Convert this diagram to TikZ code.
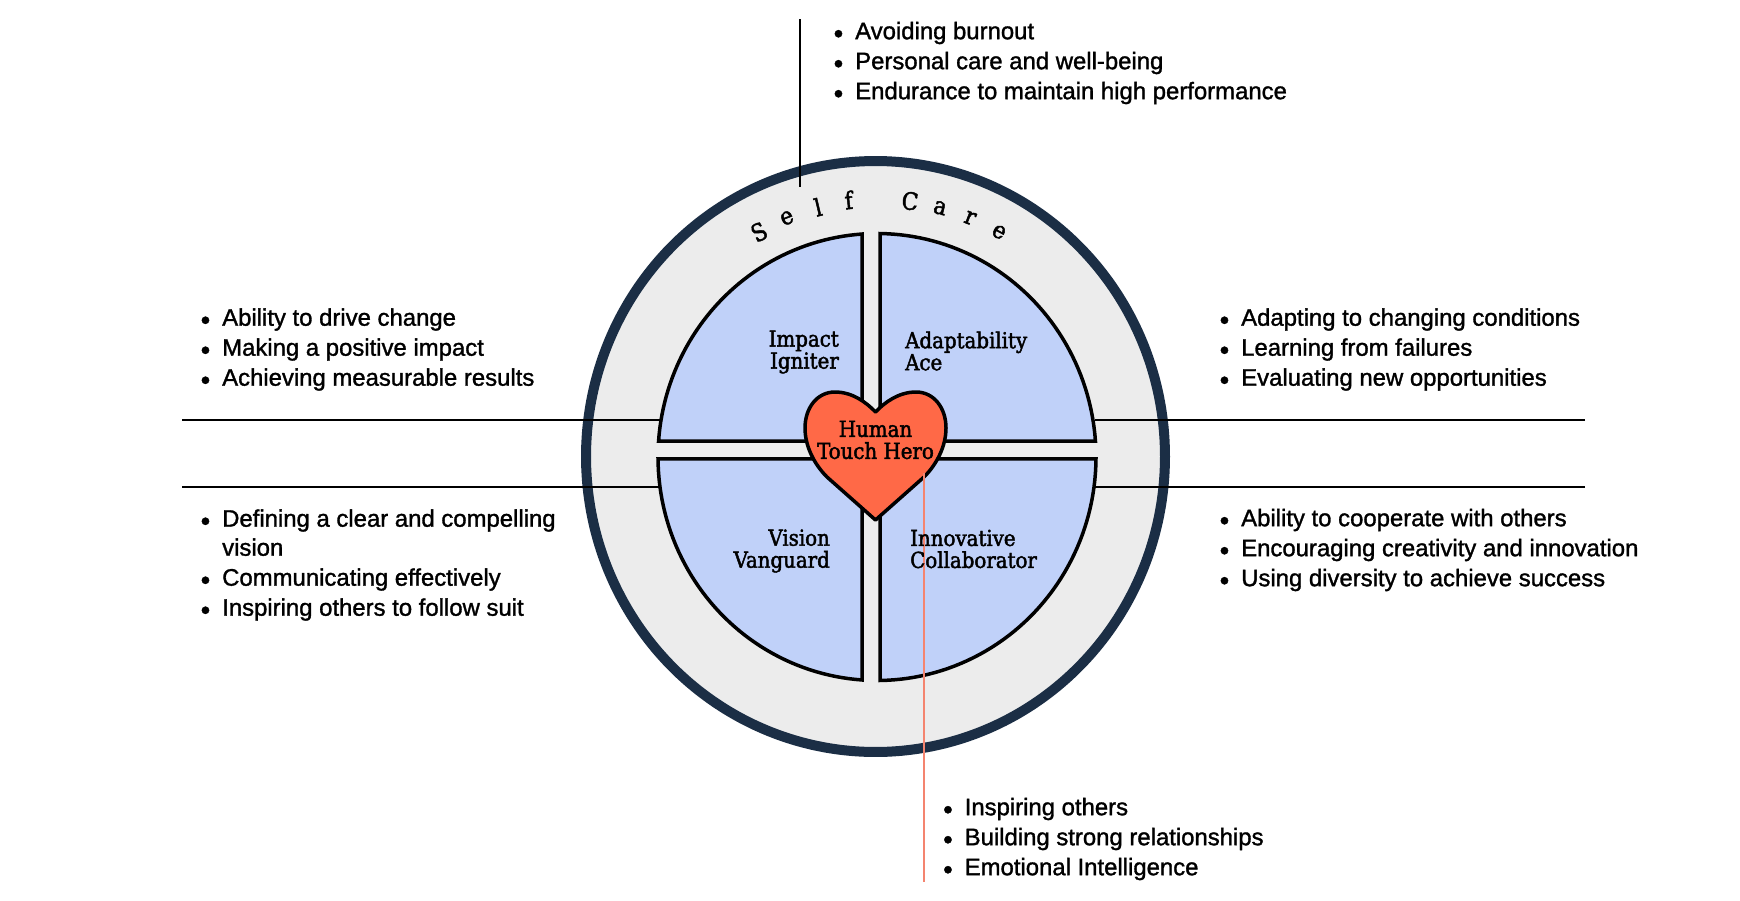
\documentclass[tikz,border=0pt]{standalone}
\usepackage{fontspec}
\usepackage{graphicx}
\setmainfont{Liberation Sans}
\newfontfamily\slabfont{DejaVu Serif Condensed}[FakeBold=2]
\newfontfamily\listfont{Liberation Sans}[FakeBold=1.3]
\definecolor{ringnavy}{HTML}{1B2E45}
\definecolor{ringgray}{HTML}{ECECEC}
\definecolor{quadblue}{HTML}{C0D1F9}
\definecolor{heartcoral}{HTML}{FF6947}
\definecolor{coralline}{HTML}{F4846F}
\newcommand{\bl}{\llap{\smash{\raisebox{-3.5pt}{\fontsize{27}{30}\selectfont •}}\hspace{12pt}}\strut}
\tikzset{
  x=1pt,y=-1pt,
  ringshape/.style={draw=ringnavy,fill=ringgray,line width=10pt},
  quad/.style={draw=black,fill=quadblue,line width=3.5pt,miter limit=10},
  heartshape/.style={draw=black,fill=heartcoral,line width=3.5pt,line join=round},
  leader/.style={draw=black,line width=1.6pt},
  coralleader/.style={draw=coralline,line width=1.8pt},
  bullets/.style={anchor=north west,inner sep=0pt,align=left,font=\listfont\fontsize{23.9}{30}\selectfont,text=black},
  slabr/.style={inner sep=0pt,align=right,font=\slabfont\fontsize{22}{22}\selectfont},
  slabl/.style={inner sep=0pt,align=left,font=\slabfont\fontsize{22}{22}\selectfont},
  slabc/.style={inner sep=0pt,align=center,font=\slabfont\fontsize{22}{22}\selectfont},
  arcletter/.style={inner sep=0pt,font=\slabfont\fontsize{24}{24}\selectfont},
}
\begin{document}
\begin{tikzpicture}
\useasboundingbox (0,0) rectangle (1740,900);
\fill[white] (0,0) rectangle (1740,900);
% ring
\draw[ringshape] plot[domain=0:360,samples=120,smooth cycle] ({875.5+289.5*cos(\x)},{456.5+295.5*sin(\x)});
% anchors of leaders
\coordinate (ul) at (182,420);
\coordinate (ulq) at (660,420);
\coordinate (ur) at (1585,420);
\coordinate (urq) at (1095,420);
\coordinate (ll) at (182,487);
\coordinate (llq) at (660,487);
\coordinate (lr) at (1585,487);
\coordinate (lrq) at (1095,487);
\coordinate (tt) at (800,19);
\coordinate (tb) at (800,187);
\coordinate (ct) at (924,473);
\coordinate (cb) at (924,882);
\draw[leader] (ul) -- (ulq);
\draw[leader] (ur) -- (urq);
\draw[leader] (ll) -- (llq);
\draw[leader] (lr) -- (lrq);
\draw[leader] (tt) -- (tb);
% quadrants
\draw[quad] (862,441) -- plot[domain=93.93:175.9,samples=50] ({877+219*cos(\x)},{457-223.5*sin(\x)}) -- cycle;
\draw[quad] (880,441) -- plot[domain=89.2:4.1,samples=50] ({877+219*cos(\x)},{457-223.5*sin(\x)}) -- cycle;
\draw[quad] (862,459) -- plot[domain=180.5:266.07,samples=50] ({877+219*cos(\x)},{457-223.5*sin(\x)}) -- cycle;
\draw[quad] (880,459) -- plot[domain=270.8:359.5,samples=50] ({877+219*cos(\x)},{457-223.5*sin(\x)}) -- cycle;
% heart
\draw[heartshape] (875.5,412)
  .. controls (866,402) and (852,392) .. (835,392)
  .. controls (817,392) and (805,408) .. (805,428)
  .. controls (805,446) and (814,464) .. (827,477)
  -- (875.5,520) -- (924,477)
  .. controls (937,464) and (946,446) .. (946,428)
  .. controls (946,408) and (934,392) .. (916,392)
  .. controls (899,392) and (885,402) .. (875.5,412) -- cycle;
\draw[coralleader] (ct) -- (cb);
% arc lettering
\node[arcletter,rotate=27.7] (s1) at (759,232) {S};
\node[arcletter,rotate=20.6] (s2) at (787,218) {e};
\node[arcletter,rotate=13.3] (s3) at (818,207) {l};
\node[arcletter,rotate=6.3] (s4) at (848.6,200) {f};
\node[arcletter,rotate=-7.3] (s5) at (910,201) {C};
\node[arcletter,rotate=-14.2] (s6) at (940,208) {a};
\node[arcletter,rotate=-21.3] (s7) at (970,218) {r};
\node[arcletter,rotate=-28.5] (s8) at (999,232) {e};
% quadrant labels
\node[slabr,anchor=east] (impact) at (839,352) {Impact\\Igniter};
\node[slabl,anchor=west] (adapt) at (905,351) {Adaptability\\Ace};
\node[slabr,anchor=east] (vision) at (830,551) {Vision\\Vanguard};
\node[slabl,anchor=west] (innov) at (910,549) {Innovative\\Collaborator};
\node[slabc] (hero) at (875.5,440) {Human\\Touch Hero};
% lists
\node[bullets] (l1) at (855,18) {\bl Avoiding burnout\\\bl Personal care and well-being\\\bl Endurance to maintain high performance};
\node[bullets] (l2) at (222,304.5) {\bl Ability to drive change\\\bl Making a positive impact\\\bl Achieving measurable results};
\node[bullets] (l3) at (222,505.5) {\bl Defining a clear and compelling\\[-1pt]\strut vision\\\bl Communicating effectively\\\bl Inspiring others to follow suit};
\node[bullets] (l4) at (1241,304.5) {\bl Adapting to changing conditions\\\bl Learning from failures\\\bl Evaluating new opportunities};
\node[bullets] (l5) at (1241,505) {\bl Ability to cooperate with others\\\bl Encouraging creativity and innovation\\\bl Using diversity to achieve success};
\node[bullets] (l6) at (964.5,794) {\bl Inspiring others\\\bl Building strong relationships\\\bl Emotional Intelligence};
\end{tikzpicture}
\end{document}
